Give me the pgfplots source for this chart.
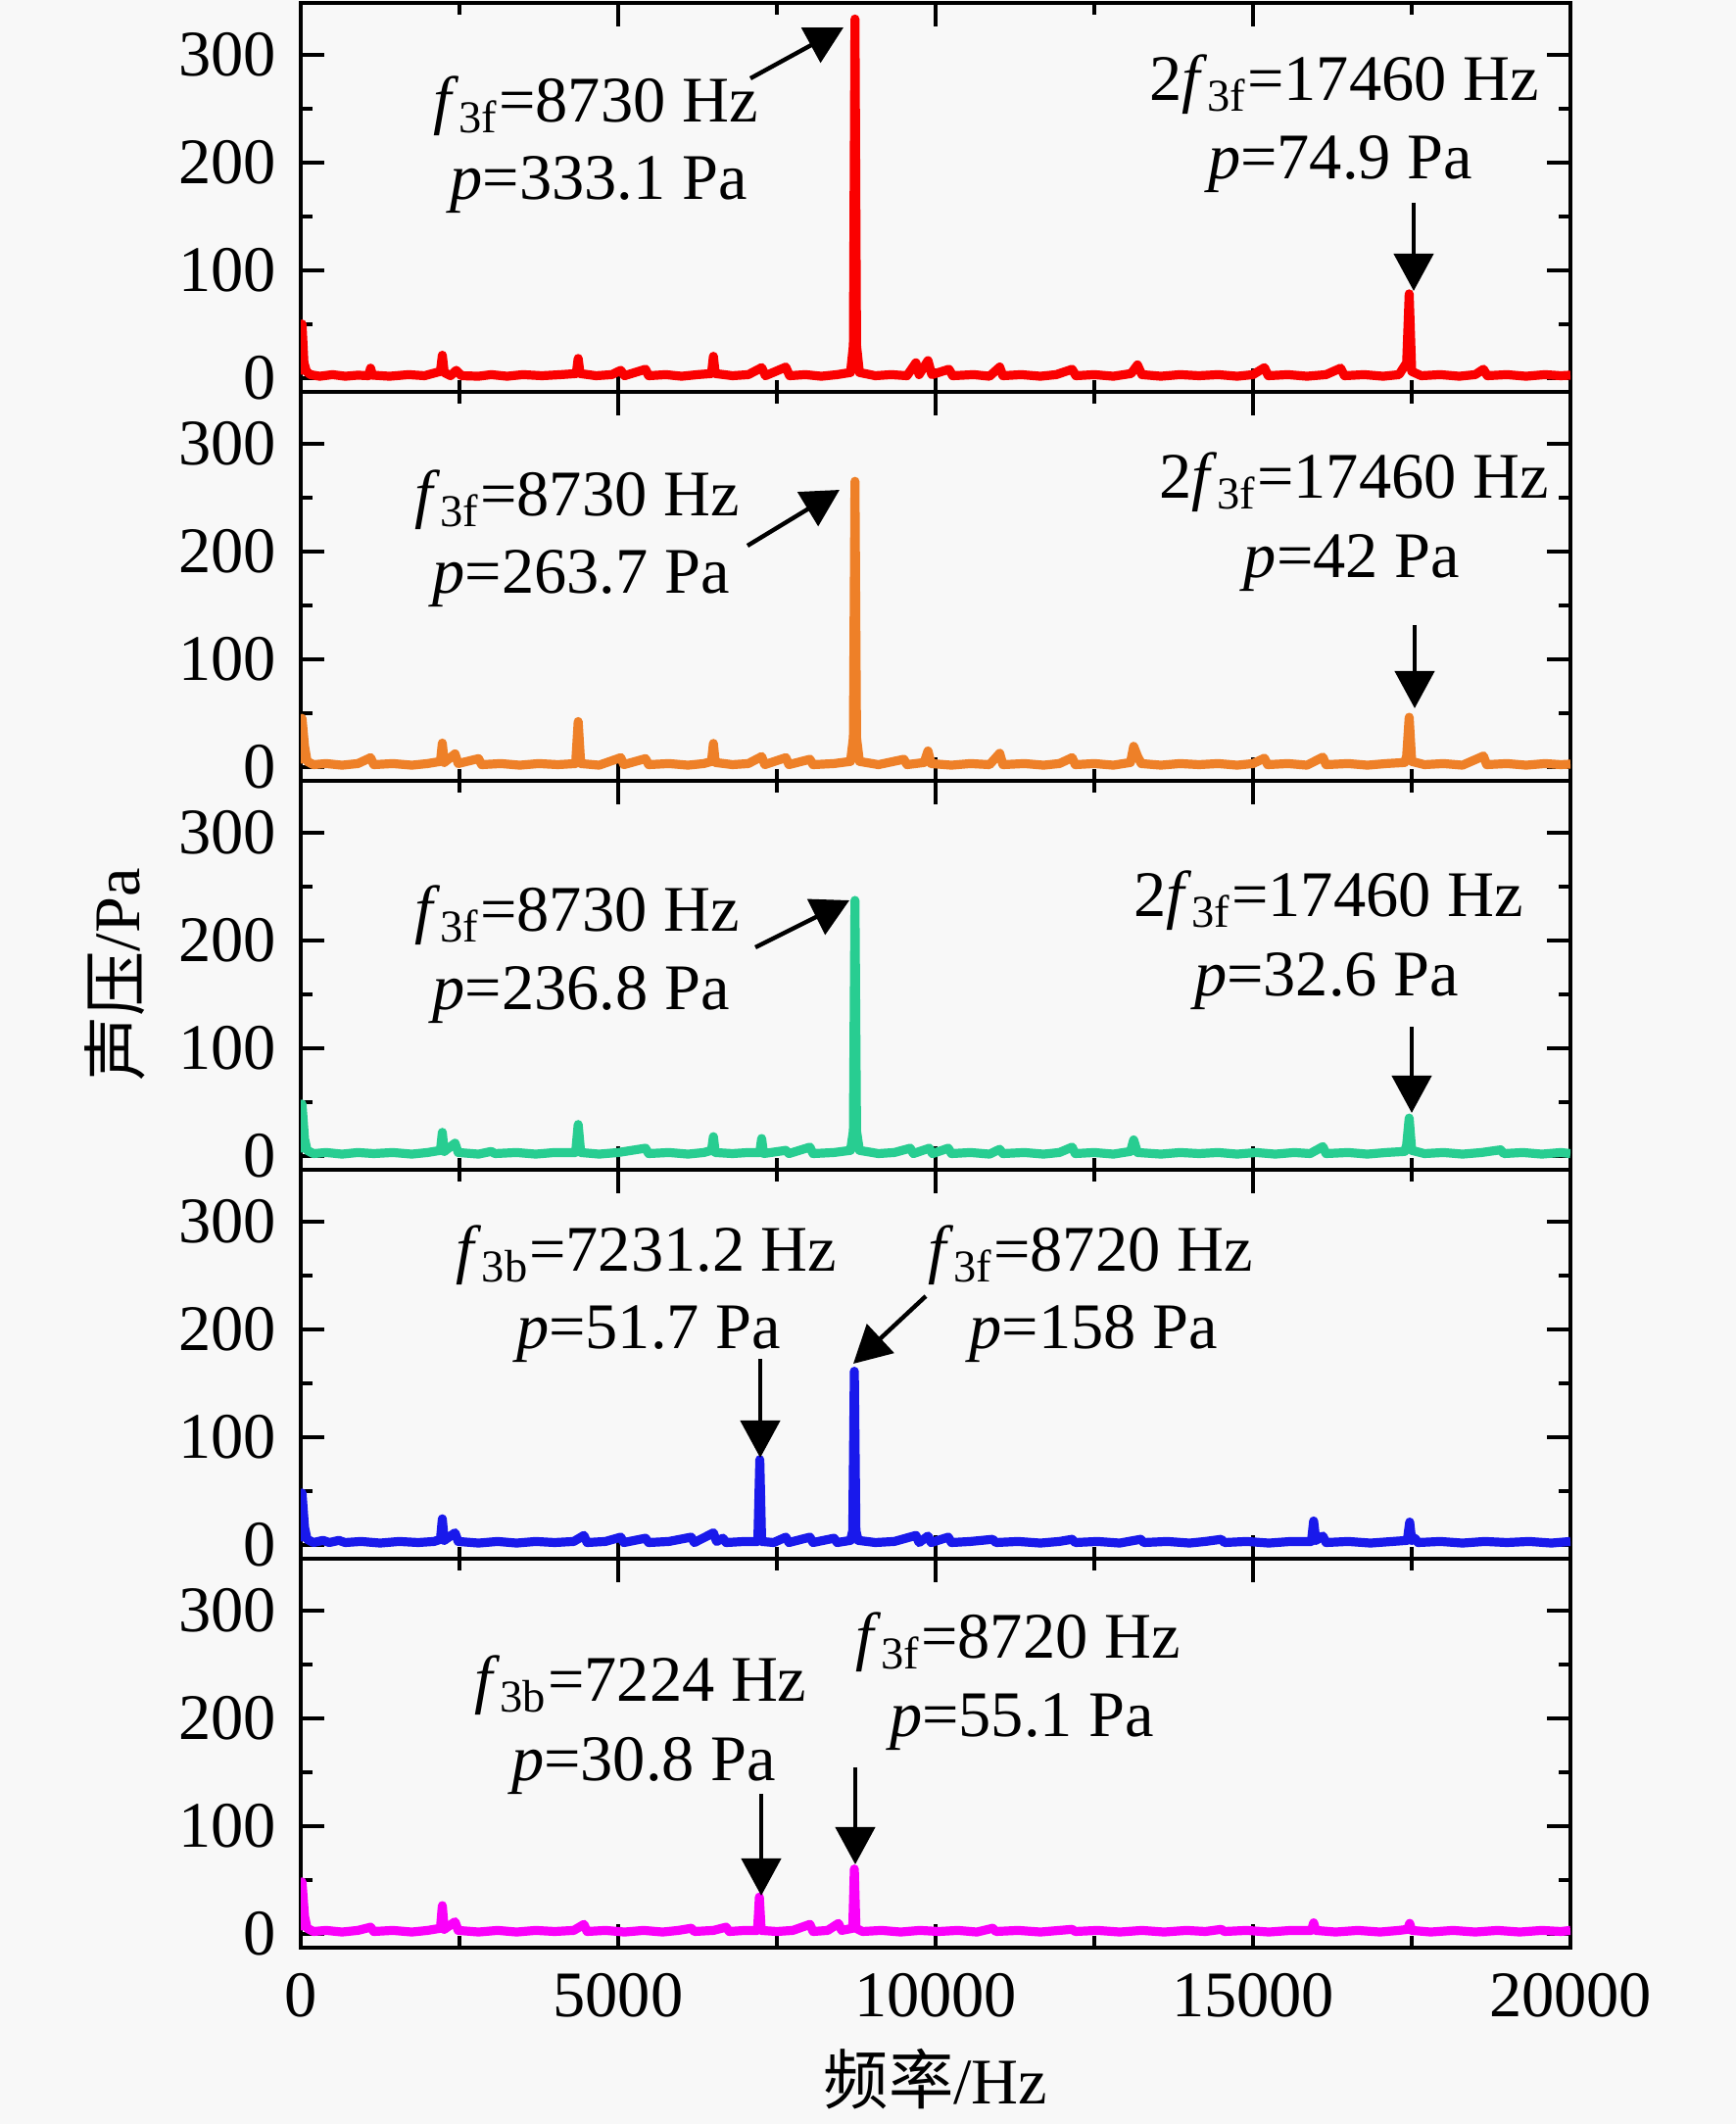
\documentclass[border=0pt]{standalone}
\usepackage{fontspec}
\setmainfont{Liberation Serif}
\newfontfamily\cjk{Noto Sans CJK SC}
\usepackage{pgfplots}
\pgfplotsset{compat=1.18}
\usetikzlibrary{arrows.meta}

\definecolor{bgcol}{RGB}{248,248,248}
\definecolor{cred}{RGB}{250,0,0}
\definecolor{corange}{RGB}{238,128,40}
\definecolor{cgreen}{RGB}{40,205,145}
\definecolor{cblue}{RGB}{25,25,235}
\definecolor{cmag}{RGB}{250,0,250}

\newcommand{\fs}{\fontsize{16.6}{20}\selectfont}
\newcommand{\fsub}[1]{\textit{f}\textsubscript{#1}}

\pgfplotsset{
  panel/.style={
    scale only axis, width=324pt, height=99.25pt,
    xmin=0, xmax=20000, ymin=-13, ymax=348,
    axis line style={line width=1.1pt},
    every tick/.style={black, line width=1pt},
    major tick length=6pt, minor tick length=3pt,
    tick align=inside,
    xtick={0,5000,10000,15000,20000},
    minor xtick={2500,7500,12500,17500},
    ytick={0,100,200,300},
    minor ytick={50,150,250},
    scaled x ticks=false,
    /pgf/number format/1000 sep={},
    /pgf/number format/assume math mode=true,
    tick label style={font=\fs},
    yticklabel style={xshift=-2.8pt},
    xticklabel style={yshift=-3pt},
    clip=true,
    anchor=south west,
  },
  spec/.style={line width=2.3pt, line join=round, mark=none},
}

\begin{document}
\begin{tikzpicture}
\fill[bgcol] (0,0) rectangle (443pt,542pt);

% Panel 1 (red)
\begin{axis}[panel, at={(76.75pt,442pt)}, xticklabels={}]
\addplot[cred, spec] coordinates {
(0,3) (20,50) (50,14) (90,6) (150,3) (300,1.5) (500,3) (700,1.5) (900,2.5) (1070,2) (1100,9) (1130,2.5) (1400,1.5) (1700,3) (1950,2) (2200,6) (2230,21) (2260,5) (2360,2) (2450,7) (2530,2) (2800,1.5) (3000,3) (3250,1.5) (3500,3) (3800,2) (4100,3) (4340,4) (4370,18) (4400,4) (4650,2) (4900,3) (5040,7) (5100,2) (5430,8) (5480,2) (5750,3) (6000,1.5) (6250,3) (6470,4) (6500,20) (6530,4) (6800,2) (7050,3) (7260,9.5) (7320,2) (7640,10) (7700,2) (7950,3) (8200,1.5) (8450,3) (8660,5) (8705,30) (8730,333.1) (8755,30) (8800,5) (9050,2) (9300,3) (9550,2) (9690,14) (9740,3) (9880,16) (9940,3) (10210,8) (10270,2) (10600,3) (10850,1.5) (11010,10) (11060,2) (11350,3) (11650,1.5) (11900,3) (12150,8) (12210,2) (12500,3) (12800,1.5) (13080,4) (13180,12) (13250,3) (13550,1.5) (13850,3) (14150,2) (14450,3) (14750,1.5) (15000,3) (15180,9.5) (15240,2) (15550,3) (15850,1.5) (16150,3) (16380,9) (16440,2) (16750,3) (17050,1.5) (17300,3) (17420,14) (17460,78) (17500,6) (17650,2) (17950,3) (18250,1.5) (18500,3) (18630,8) (18690,2) (19000,3) (19300,1.5) (19600,3) (19850,2) (20000,2.5)
};
\end{axis}

% Panel 2 (orange)
\begin{axis}[panel, at={(76.75pt,342.75pt)}, xticklabels={}]
\addplot[corange, spec] coordinates {
(0,3) (20,45) (60,19) (100,5) (200,2) (400,3) (650,1.5) (900,3) (1100,8.5) (1150,2) (1450,3) (1750,1.5) (2000,3) (2200,5) (2230,22) (2260,4) (2430,12) (2480,3) (2800,7.6) (2850,2) (3150,3) (3450,1.5) (3750,3) (4050,2) (4330,3) (4370,42) (4410,3) (4700,1.5) (5040,8.5) (5090,2) (5430,7.6) (5480,2) (5800,3) (6100,1.5) (6350,3) (6470,5) (6500,21.7) (6530,4) (6800,2) (7050,3) (7260,9.5) (7310,2) (7640,8.5) (7690,2) (8020,7) (8070,2) (8400,3) (8660,5) (8705,27) (8730,265) (8755,27) (8800,5) (9100,2) (9500,7) (9550,2) (9820,4) (9880,14.7) (9930,3) (10250,1.5) (10550,3) (10850,2) (11010,12.5) (11060,2) (11400,3) (11700,1.5) (11950,3) (12150,8.5) (12200,2) (12500,3) (12800,1.5) (13070,4) (13120,19) (13180,10) (13240,3) (13550,1.5) (13850,3) (14150,2) (14450,3) (14750,1.5) (15000,3) (15180,8) (15230,2) (15550,3) (15850,1.5) (16100,9) (16150,2) (16500,3) (16800,1.5) (17100,3) (17390,4) (17420,10) (17460,46) (17500,5) (17700,2) (18000,3) (18300,1.5) (18630,10) (18680,2) (19000,3) (19300,1.5) (19600,3) (19850,2) (20000,2.5)
};
\end{axis}

% Panel 3 (green)
\begin{axis}[panel, at={(76.75pt,243.5pt)}, xticklabels={}]
\addplot[cgreen, spec] coordinates {
(0,3) (20,48) (60,15.6) (100,5) (200,2) (400,3) (650,1.5) (900,3) (1150,2) (1450,3) (1750,1.5) (2000,3) (2200,5) (2230,21.7) (2260,4) (2430,11.6) (2480,3) (2800,1.5) (3000,4) (3060,2) (3400,3) (3700,1.5) (4000,3) (4330,3) (4370,29) (4410,3) (4700,1.5) (5000,3) (5430,7) (5480,2) (5800,3) (6100,1.5) (6350,3) (6470,5) (6500,17.7) (6530,3) (6800,2) (7050,3) (7230,3) (7260,16) (7290,2) (7640,5) (7690,2) (8020,8) (8070,2) (8400,3) (8660,5) (8705,23) (8730,237) (8755,23) (8800,5) (9100,2) (9350,3) (9600,7) (9650,2) (9900,7) (9950,2) (10200,7) (10250,2) (10550,3) (10850,1.5) (11010,6) (11060,2) (11400,3) (11700,1.5) (11950,3) (12150,8) (12200,2) (12500,3) (12800,1.5) (13070,4) (13120,14.7) (13180,3) (13550,1.5) (13850,3) (14150,2) (14450,3) (14750,1.5) (15050,3) (15350,1.5) (15650,3) (15900,2) (16100,8.5) (16150,2) (16500,3) (16800,1.5) (17100,3) (17390,4) (17420,10) (17460,35) (17500,5) (17700,2) (18000,3) (18300,1.5) (18600,3) (18900,5.5) (18950,2) (19250,3) (19550,1.5) (19850,3) (20000,2)
};
\end{axis}

% Panel 4 (blue)
\begin{axis}[panel, at={(76.75pt,144.25pt)}, xticklabels={}]
\addplot[cblue, spec] coordinates {
(0,3) (20,48) (60,16) (100,5) (200,2) (350,4) (450,2) (600,4) (700,2) (950,3) (1250,1.5) (1550,3) (1850,2) (2100,3) (2200,5) (2230,24) (2260,4) (2430,11) (2480,3) (2800,1.5) (3100,3) (3400,1.5) (3700,3) (4000,2) (4300,3) (4460,8.6) (4510,2) (4800,3) (5040,7) (5090,2) (5430,6) (5480,2) (5800,3) (6150,7) (6200,2) (6500,11) (6550,3) (6650,6) (6700,2) (7000,3) (7200,3) (7231,79) (7260,3) (7450,2) (7640,7) (7690,2) (8020,7) (8070,2) (8400,6) (8450,2) (8660,4) (8695,13) (8720,161) (8745,13) (8780,4) (9050,2) (9350,3) (9690,8.6) (9740,2) (9880,8) (9930,2) (10200,7) (10250,2) (10550,3) (10900,5) (10950,2) (11300,3) (11650,1.5) (11950,3) (12150,5) (12200,2) (12550,3) (12900,1.5) (13230,5) (13280,2) (13650,3) (14000,1.5) (14250,3) (14500,5) (14550,2) (14900,3) (15250,1.5) (15600,3) (15920,3) (15955,22) (15990,4) (16100,8) (16150,2) (16500,3) (16850,1.5) (17200,3) (17430,4) (17468,21) (17500,4) (17550,6) (17600,2) (17950,3) (18300,1.5) (18650,3) (19000,2) (19350,3) (19700,1.5) (20000,3)
};
\end{axis}

% Panel 5 (magenta)
\begin{axis}[panel, at={(76.75pt,45pt)}]
\addplot[cmag, spec] coordinates {
(0,3) (20,48) (60,16) (100,5) (200,2) (400,3) (650,1.5) (900,3) (1100,6) (1150,2) (1450,3) (1750,1.5) (2000,3) (2200,5) (2230,26) (2260,4) (2430,11) (2480,3) (2800,1.5) (3100,3) (3400,1.5) (3700,3) (4000,2) (4300,3) (4460,8.6) (4510,2) (4800,3) (5100,1.5) (5400,3) (5700,1.5) (5950,3) (6150,5) (6200,2) (6500,3) (6700,6) (6750,2) (7000,3) (7195,3) (7224,34) (7253,3) (7500,2) (7750,3) (8020,8.6) (8070,2) (8300,3) (8470,9.5) (8520,3) (8695,5) (8720,60) (8745,5) (8850,2) (9150,3) (9450,1.5) (9750,3) (10050,2) (10350,3) (10650,1.5) (10900,5) (10950,2) (11300,3) (11650,1.5) (11950,3) (12150,4) (12200,2) (12550,3) (12900,1.5) (13250,3) (13600,1.5) (13950,3) (14250,2) (14500,4) (14550,2) (14900,3) (15250,1.5) (15600,3) (15920,3) (15955,10) (15990,3) (16300,1.5) (16650,3) (17000,1.5) (17300,3) (17435,4) (17468,9.5) (17500,3) (17800,1.5) (18150,3) (18500,1.5) (18850,3) (19200,1.5) (19550,3) (19850,2) (20000,3)
};
\end{axis}

% Annotations in image pixel coordinates (origin top-left)
\begin{scope}[x=0.25pt, y=-0.25pt, yshift=542pt,
  every node/.style={inner sep=0pt, font=\fs},
  arr/.style={line width=1.1pt, -{Triangle[length=9.5pt,width=10pt]}}]
% Panel 1
\node[anchor=base] at (608,125) {\fsub{3f}=8730 Hz};
\node[anchor=base] at (611,204) {\textit{p}=333.1 Pa};
\node[anchor=base] at (1372,103) {2\fsub{3f}=17460 Hz};
\node[anchor=base] at (1368,183) {\textit{p}=74.9 Pa};
\draw[arr] (766,80) -- (861,28);
\draw[arr] (1443,207) -- (1443,297);
% Panel 2
\node[anchor=base] at (589,527) {\fsub{3f}=8730 Hz};
\node[anchor=base] at (593,606) {\textit{p}=263.7 Pa};
\node[anchor=base] at (1382,509) {2\fsub{3f}=17460 Hz};
\node[anchor=base] at (1380,590) {\textit{p}=42 Pa};
\draw[arr] (763,557) -- (857,500);
\draw[arr] (1444,638) -- (1444,723);
% Panel 3
\node[anchor=base] at (589,951) {\fsub{3f}=8730 Hz};
\node[anchor=base] at (593,1031) {\textit{p}=236.8 Pa};
\node[anchor=base] at (1356,936) {2\fsub{3f}=17460 Hz};
\node[anchor=base] at (1354,1017) {\textit{p}=32.6 Pa};
\draw[arr] (771,967) -- (867,919);
\draw[arr] (1441,1048) -- (1441,1136);
% Panel 4
\node[anchor=base] at (660,1298) {\fsub{3b}=7231.2 Hz};
\node[anchor=base] at (662,1377) {\textit{p}=51.7 Pa};
\node[anchor=base] at (1113,1298) {\fsub{3f}=8720 Hz};
\node[anchor=base] at (1116,1377) {\textit{p}=158 Pa};
\draw[arr] (776,1387) -- (776,1488);
\draw[arr] (945,1323) -- (871,1392);
% Panel 5
\node[anchor=base] at (654,1737) {\fsub{3b}=7224 Hz};
\node[anchor=base] at (657,1818) {\textit{p}=30.8 Pa};
\node[anchor=base] at (1039,1693) {\fsub{3f}=8720 Hz};
\node[anchor=base] at (1043,1773) {\textit{p}=55.1 Pa};
\draw[arr] (777,1831) -- (777,1935);
\draw[arr] (873,1804) -- (873,1903);
% Axis labels
\node[anchor=base] at (955,2147) {{\cjk 频率}/Hz};
\node[rotate=90, anchor=center] at (117,995) {{\cjk 声压}/Pa};
\end{scope}

\pgfresetboundingbox
\useasboundingbox (0,0) rectangle (443pt,542pt);
\end{tikzpicture}
\end{document}
